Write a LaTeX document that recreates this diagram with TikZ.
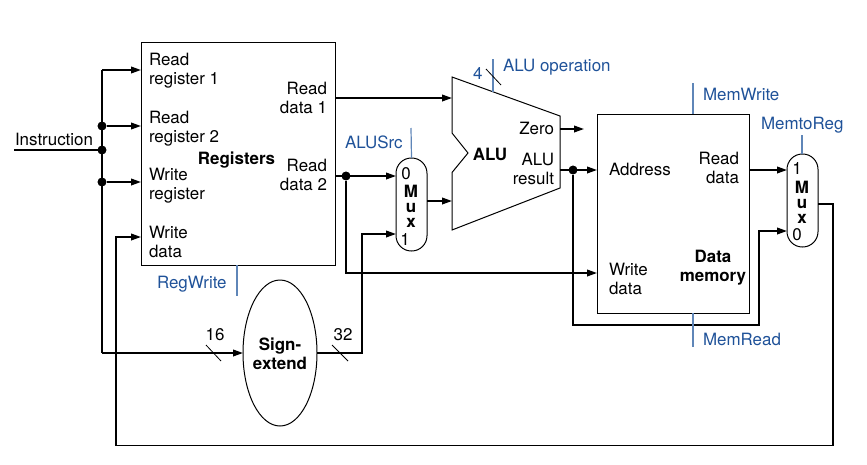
\documentclass[tikz,border=0pt]{standalone}
\usepackage{fontspec}
\setmainfont{TeX Gyre Heros}
\usetikzlibrary{arrows.meta,shapes.geometric}
\definecolor{ctlblue}{HTML}{1F5299}
\definecolor{ctlline}{HTML}{5F86B8}
\tikzset{
  px/.style={x=0.75pt,y=-0.75pt},
  wire/.style={line width=1.25pt,black,line join=miter},
  arrw/.style={wire,-{Triangle[length=7.5pt,width=5pt]}},
  ctl/.style={line width=0.9pt,ctlline},
  slash/.style={line width=0.6pt,black},
  blk/.style={draw=black,line width=0.75pt,fill=white,inner sep=0pt,outer sep=0pt},
  muxbox/.style={blk,rounded corners=11.5pt,minimum width=23.25pt},
  dot/.style={circle,fill=black,inner sep=0pt,minimum size=6.5pt},
  lab/.style={inner sep=0pt,outer sep=0pt,align=left,anchor=north west,font=\fontsize{12.7}{14.25}\selectfont},
  labr/.style={lab,align=right,anchor=north east},
  labc/.style={lab,align=center,anchor=north},
  blab/.style={lab,text=ctlblue},
  bold/.style={labc,font=\fontsize{12.7}{14.25}\selectfont\bfseries},
  muxt/.style={labc,font=\fontsize{12.7}{11.25}\selectfont\bfseries},
}
\begin{document}
\begin{tikzpicture}[px]
\useasboundingbox (0,0) rectangle (867,464);
% blocks
\node[blk,minimum width=145.5pt,minimum height=167.25pt] (regs) at (238,153.5) {};
\node[blk,minimum width=114pt,minimum height=149.25pt] (dmem) at (673,213.5) {};
\node[muxbox,minimum height=69.75pt] (muxa) at (411.5,204.5) {};
\node[muxbox,minimum height=69.75pt] (muxb) at (802.5,200.5) {};
\node[blk,ellipse,minimum width=55.5pt,minimum height=109.5pt] (sext) at (280,353) {};
\draw[blk] (452,77) coordinate (alutl) -- (560,116) coordinate (alutr) -- (560,188) coordinate (alubr)
  -- (452,230) coordinate (alubl) -- (452,172.5) -- (468,153) -- (452,133) -- cycle;
% named ports
\coordinate (instr) at (14,150);
\coordinate (jI) at (102,150);
\node[dot] (dI) at (jI) {};
\node[dot] (d2) at (102,126) {};
\node[dot] (d3) at (102,182) {};
\coordinate (busT) at (102,70);
\coordinate (busB) at (102,353);
\coordinate (r1) at (regs.west |- busT);
\coordinate (r2) at (regs.west |- d2);
\coordinate (r3) at (regs.west |- d3);
\coordinate (r4) at (141,237);
\coordinate (fbA) at (116,237);
\coordinate (fbB) at (116,445.5);
\coordinate (fbC) at (833,445.5);
\coordinate (fbD) at (833,204);
\coordinate (rd1) at (335,98);
\coordinate (aluA) at (452,98);
\coordinate (rd2) at (335,176);
\node[dot] (d4) at (346,176) {};
\coordinate (mA0) at (396,176);
\coordinate (mA1) at (396,234);
\coordinate (mAo) at (427,201);
\coordinate (aluB) at (452,201);
\coordinate (wdA) at (346,273);
\coordinate (wdB) at (597,273);
\coordinate (seOut) at (317,353);
\coordinate (seJ) at (362,353);
\coordinate (seUp) at (362,234);
\coordinate (zero) at (560,129);
\coordinate (zeroE) at (584,129);
\coordinate (res) at (560,170);
\node[dot] (d5) at (573,170) {};
\coordinate (addr) at (597,170);
\coordinate (byA) at (573,325);
\coordinate (byB) at (759,325);
\coordinate (byC) at (759,231);
\coordinate (mB0) at (787,231);
\coordinate (rdm) at (749,170);
\coordinate (mB1) at (787,170);
\coordinate (mBo) at (818,204);
% wires
\draw[wire] (instr) -- (jI);
\draw[wire] (busB) -- (busT);
\draw[arrw] (busT) -- (r1);
\draw[arrw] (d2) -- (r2);
\draw[arrw] (d3) -- (r3);
\draw[arrw] (busB) -- (sext.west);
\draw[arrw] (mBo) -- (fbD) -- (fbC) -- (fbB) -- (fbA) -- (r4);
\draw[arrw] (rd1) -- (aluA);
\draw[arrw] (rd2) -- (mA0);
\draw[arrw] (d4) -- (wdA) -- (wdB);
\draw[arrw] (mAo) -- (aluB);
\draw[arrw] (seOut) -- (seJ) -- (seUp) -- (mA1);
\draw[arrw] (zero) -- (zeroE);
\draw[arrw] (res) -- (addr);
\draw[arrw] (d5) -- (byA) -- (byB) -- (byC) -- (mB0);
\draw[arrw] (rdm) -- (mB1);
% control lines
\coordinate (opT) at (493,59);
\coordinate (opB) at (493,92);
\coordinate (srcT) at (411,128);
\coordinate (rwB) at (237,296);
\coordinate (mwT) at (693,83);
\coordinate (mrB) at (693,347);
\coordinate (m2T) at (802,135);
\draw[ctl] (opT) -- (opB);
\draw[ctl] (srcT) -- (muxa.north);
\draw[ctl] (regs.south -| rwB) -- (rwB);
\draw[ctl] (mwT) -- (dmem.north -| mwT);
\draw[ctl] (dmem.south -| mrB) -- (mrB);
\draw[ctl] (m2T) -- (muxb.north -| m2T);
% bus-width slashes
\coordinate (sa1) at (486,69); \coordinate (sa2) at (501,85);
\coordinate (sb1) at (206,345); \coordinate (sb2) at (221,361);
\coordinate (sc1) at (332,345); \coordinate (sc2) at (348,361);
\draw[slash] (sa1) -- (sa2);
\draw[slash] (sb1) -- (sb2);
\draw[slash] (sc1) -- (sc2);
% dots on top
\node[dot] at (102,150) {};
\node[dot] at (102,126) {};
\node[dot] at (102,182) {};
\node[dot] at (346,176) {};
\node[dot] at (573,170) {};
% texts
\node[lab] (tInstr) at (15,133) {Instruction};
\node[lab] (t1) at (149,53) {Read\\register 1};
\node[lab] (t2) at (149,111) {Read\\register 2};
\node[lab] (t3) at (149,168) {Write\\register};
\node[lab] (t4) at (149,226) {Write\\data};
\node[bold] (tRegs) at (236.5,152) {Registers};
\node[labr] (t5) at (327,82) {Read\\data 1};
\node[labr] (t6) at (327,159) {Read\\data 2};
\node[bold] (tAlu) at (490,148) {ALU};
\node[labr] (t7) at (554,122) {Zero};
\node[labr] (t8) at (554,153) {ALU\\result};
\node[lab] (t9) at (609,163) {Address};
\node[labr] (t10) at (739,152) {Read\\data};
\node[lab] (t11) at (609,263) {Write\\data};
\node[bold] (t12) at (713,250) {Data\\memory};
\node[bold] (t13) at (280,338) {Sign-\\extend};
\node[labc] (n0a) at (406,167) {0};
\node[labc] (n1a) at (405,233) {1};
\node[muxt] (ma) at (411,185) {M\\u\\x};
\node[labc] (n1b) at (797,162) {1};
\node[labc] (n0b) at (797,228) {0};
\node[muxt] (mb) at (802,181) {M\\u\\x};
\node[labc] (n16) at (215,328) {16};
\node[labc] (n32) at (343,328) {32};
\node[blab] (c4) at (473,67) {4};
\node[blab] (c1) at (503,59) {ALU operation};
\node[blab] (c2) at (345,136) {ALUSrc};
\node[blab] (c3) at (157,276) {RegWrite};
\node[blab] (c5) at (703,88) {MemWrite};
\node[blab] (c6) at (703,333) {MemRead};
\node[blab] (c7) at (761,117) {MemtoReg};
\end{tikzpicture}
\end{document}
